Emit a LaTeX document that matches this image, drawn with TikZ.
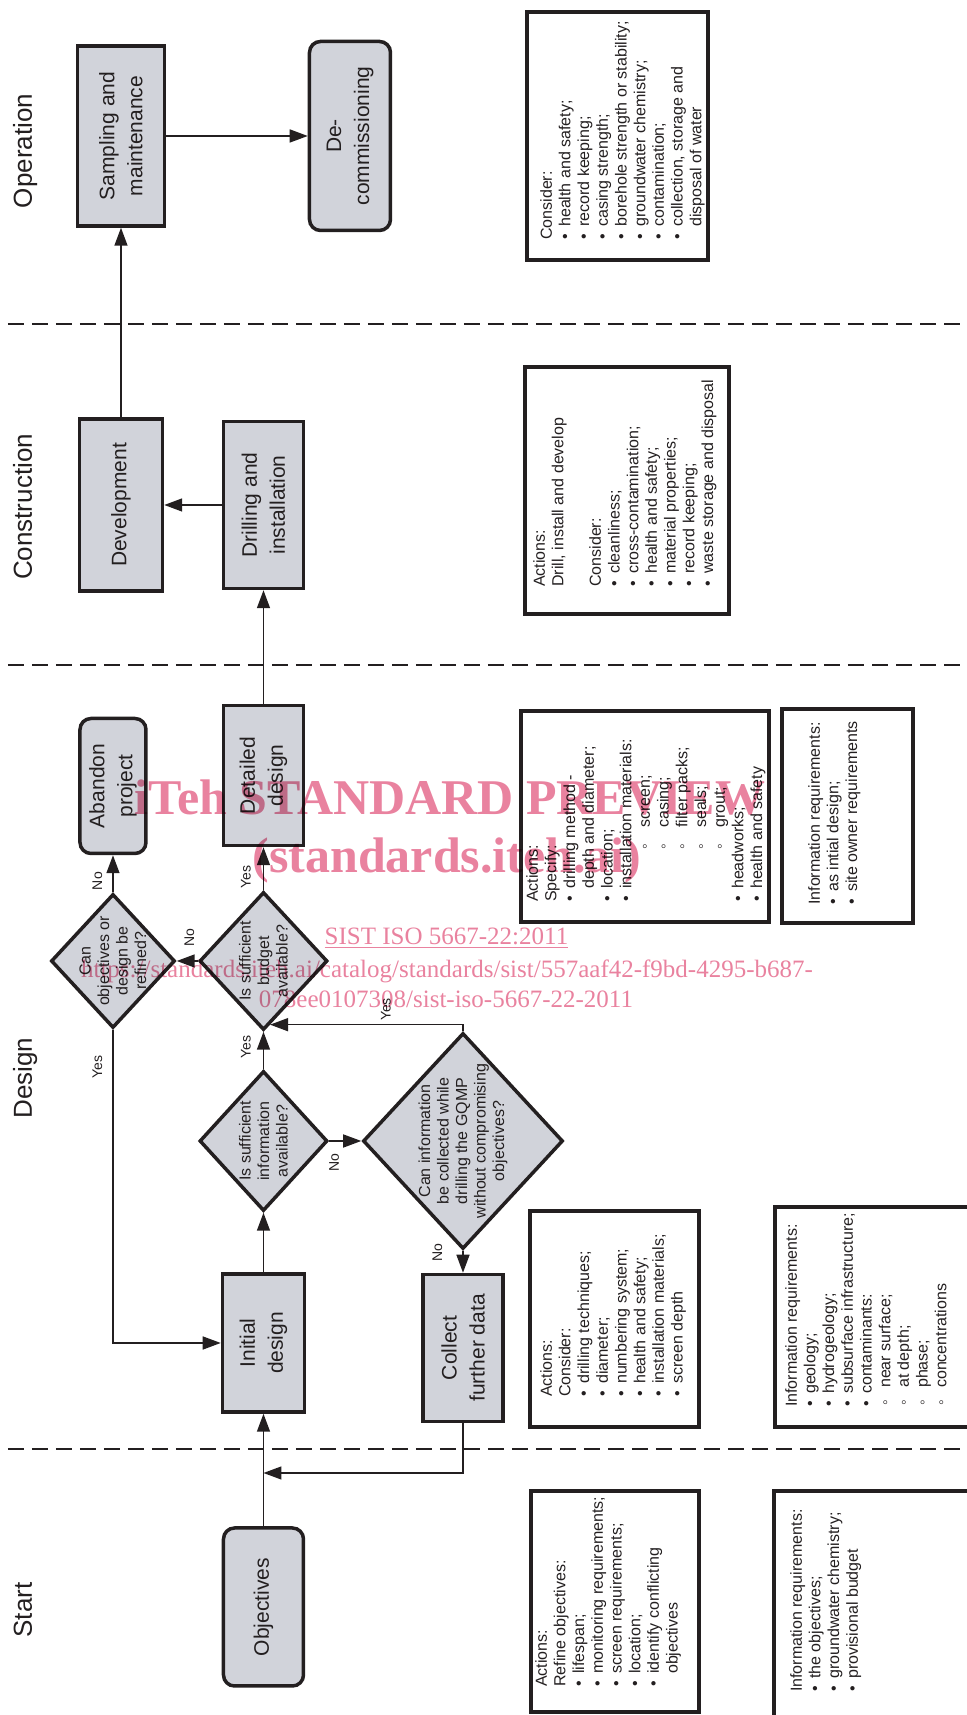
\documentclass[tikz,border=0pt]{standalone}
\usepackage{fontspec}
\setmainfont{Liberation Sans}
\newfontfamily\wmfont{Liberation Serif}
\usetikzlibrary{arrows.meta,shapes.geometric,calc}
\definecolor{grigio}{HTML}{D1D3DA}
\definecolor{nero}{HTML}{231F20}
\definecolor{rosa}{HTML}{E9829F}
% punti elenco
\newcommand{\bl}{\makebox[13pt][l]{\textbullet}}
\newcommand{\cl}{\hspace*{13pt}}
\newcommand{\sbl}[2]{\hspace*{#1}\makebox[#2][l]{◦}}

\begin{document}
\begin{tikzpicture}[x=1pt, y=1pt, rotate=90, transform shape,
        every node/.style={text=nero},
        proc/.style={draw=nero, line width=3.5pt, fill=grigio, align=center,
            inner sep=0pt, font=\fontsize{21}{28}\selectfont},
        term/.style={proc, rounded corners=11pt},
        dmd/.style={diamond, draw=nero, line width=3.5pt, fill=grigio, inner sep=0pt},
        dtext/.style={align=center, inner sep=0pt, font=\fontsize{16}{18.5}\selectfont},
        infobox/.style={draw=nero, line width=3.5pt},
        itext/.style={anchor=north west, align=left, inner sep=0pt,
            font=\fontsize{16}{18.7}\selectfont},
        arr/.style={draw=nero, line width=1.5pt, -{Triangle[length=18pt, width=13pt]}},
        lane/.style={draw=nero, line width=1.5pt, dash pattern=on 16pt off 8pt},
        yn/.style={inner sep=1pt, font=\fontsize{14}{16}\selectfont},
        phase/.style={anchor=base, font=\fontsize{26}{30}\selectfont},
        wm/.style={rotate=-90, anchor=base, text=rosa, inner sep=0pt}]
    \useasboundingbox (0,0) rectangle (1715,966);

    % Corsie
    \foreach \lx in {266,1050,1391}
        \draw[lane] (\lx,958) -- (\lx,-5);
    \foreach \lx/\t in {105/Start, 637/Design, 1208/Construction, 1564/Operation}
        \node[phase] (ph-\t) at (\lx,934) {\t};

    % Blocchi del diagramma
    \node[term, minimum width=158pt, minimum height=80pt] (obj) at (108,702.5) {Objectives};
    \node[proc, minimum width=138pt, minimum height=82pt] (init) at (372,702.5) {Initial\\design};
    \node[proc, minimum width=147pt, minimum height=80pt] (collect) at (367,503) {Collect\\further data};
    \node[dmd, minimum width=140pt, minimum height=128pt] (infoq) at (574,702.5) {};
    \node[dtext] (infoq-t) at (infoq) {Is sufficient\\information\\available?};
    \node[dmd, minimum width=216pt, minimum height=200pt] (collq) at (574,503) {};
    \node[dtext] (collq-t) at (collq) {Can information\\be collected while\\drilling the GQMP\\without compromising\\objectives?};
    \node[dmd, minimum width=138pt, minimum height=128pt] (budget) at (754,702.5) {};
    \node[dtext] (budget-t) at (budget) {Is sufficient\\budget\\available?};
    \node[dmd, minimum width=134pt, minimum height=124pt] (refine) at (754,853) {};
    \node[dtext] (refine-t) at (refine) {Can\\objectives or\\design be\\refined?};
    \node[proc, minimum width=140pt, minimum height=80pt] (detail) at (939.5,702.5) {Detailed\\design};
    \node[term, minimum width=135pt, minimum height=66pt] (abandon) at (929,853) {Abandon\\project};
    \node[proc, minimum width=167pt, minimum height=80pt] (drill) at (1210,702.5) {Drilling and\\installation};
    \node[proc, minimum width=172pt, minimum height=83pt] (devel) at (1210,845) {Development};
    \node[proc, minimum width=180pt, minimum height=87pt] (sampl) at (1579,845) {Sampling and\\maintenance};
    \node[term, minimum width=189pt, minimum height=81pt] (decomm) at (1579,616) {De-\\commissioning};

    % Collegamenti
    \coordinate (join) at (242,702.5);
    \coordinate (tipyes) at ($(budget.west)!0.1!(budget.south)$);
    \draw[arr] (obj) -- (init);
    \draw[arr] (collect.west) -- (collect.west -| join) -- (join);
    \draw[arr] (init) -- (infoq);
    \draw[arr] (infoq) -- node[yn, pos=0.15, left=11pt] (no1) {No} (collq);
    \draw[arr] (collq) -- node[yn, pos=0.08, above=19pt] (no2) {No} (collect);
    \draw[arr] (collq.east) -| node[yn, pos=0.7, right=2pt] (yes1) {Yes} (tipyes);
    \draw[arr] (infoq) -- node[yn, pos=0.59, above=11pt] (yes2) {Yes} (budget);
    \draw[arr] (budget) -- node[yn, pos=0.3, above=11pt] (yes3) {Yes} (detail);
    \draw[arr] (budget) -- node[yn, pos=0.4, right=13pt] (no3) {No} (refine);
    \draw[arr] (refine) -- node[yn, pos=0.3, above=9pt] (no4) {No} (abandon);
    \draw[arr] (refine.west) -| node[yn, pos=0.06, above=9pt] (yes4) {Yes} (init.north);
    \draw[arr] (detail) -- (drill);
    \draw[arr] (drill) -- (devel);
    \draw[arr] (devel) -- (sampl);
    \draw[arr] (sampl) -- (decomm);

    % Riquadri di testo
    \draw[infobox] (1455,258) rectangle (1703,439);
    \draw[infobox] (1101,237) rectangle (1348,441);
    \draw[infobox] (793,197) rectangle (1004,445);
    \draw[infobox] (792,53) rectangle (1006,184);
    \draw[infobox] (288,267) rectangle (504,436);
    \draw[infobox] (288,-20) rectangle (508,191);
    \draw[infobox] (3,267) rectangle (224,435);
    \draw[infobox] (-20,-20) rectangle (224,192);

    \node[itext] (txt-op) at (1475,426) {Consider:\\
        \bl health and safety;\\
        \bl record keeping;\\
        \bl casing strength;\\
        \bl borehole strength or stability;\\
        \bl groundwater chemistry;\\
        \bl contamination;\\
        \bl collection, storage and\\
        \cl disposal of water};
    \node[itext] (txt-co) at (1128,433) {Actions:\\
        Drill, install and develop\\[18.7pt]
        Consider:\\
        \bl cleanliness;\\
        \bl cross-contamination;\\
        \bl health and safety;\\
        \bl material properties;\\
        \bl record keeping;\\
        \bl waste storage and disposal};
    \node[itext] (txt-de1) at (813,440) {Actions:\\
        Specify:\\
        \bl drilling method -\\
        \cl depth and diameter;\\
        \bl location;\\
        \bl installation materials:\\
        \sbl{52pt}{22pt}screen;\\
        \sbl{52pt}{22pt}casing;\\
        \sbl{52pt}{22pt}filter packs;\\
        \sbl{52pt}{22pt}seals;\\
        \sbl{52pt}{22pt}grout;\\
        \bl headworks;\\
        \bl health and safety};
    \node[itext] (txt-de2) at (810,158) {Information requirements:\\
        \bl as intial design;\\
        \bl site owner requirements};
    \node[itext] (txt-de3) at (318,426) {Actions:\\
        Consider:\\
        \bl drilling techniques;\\
        \bl diameter;\\
        \bl numbering system;\\
        \bl health and safety;\\
        \bl installation materials;\\
        \bl screen depth};
    \node[itext] (txt-de4) at (308,181) {Information requirements:\\
        \bl geology;\\
        \bl hydrogeology;\\
        \bl subsurface infrastructure;\\
        \bl contaminants:\\
        \sbl{1pt}{18pt}near surface;\\
        \sbl{1pt}{18pt}at depth;\\
        \sbl{1pt}{18pt}phase;\\
        \sbl{1pt}{18pt}concentrations};
    \node[itext] (txt-st1) at (28,431) {Actions:\\
        Refine objectives:\\
        \bl lifespan;\\
        \bl monitoring requirements;\\
        \bl screen requirements;\\
        \bl location;\\
        \bl identify conflicting\\
        \cl objectives};
    \node[itext] (txt-st2) at (23,176) {Information requirements:\\
        \bl the objectives;\\
        \bl groundwater chemistry;\\
        \bl provisional budget};

    % Filigrana
    \begin{scope}[blend mode=multiply]
        \node[wm, font=\wmfont\bfseries\fontsize{50}{50}\selectfont] (wm1) at (900,516) {iTeh STANDARD PREVIEW};
        \node[wm, font=\wmfont\bfseries\fontsize{50}{50}\selectfont] (wm2) at (842,519) {(standards.iteh.ai)};
        \node[wm, font=\wmfont\fontsize{25}{25}\selectfont] (wm3) at (770,519.5) {\underline{SIST ISO 5667-22:2011}};
        \node[wm, font=\wmfont\fontsize{25}{25}\selectfont] (wm4) at (737,519) {https://standards.iteh.ai/catalog/standards/sist/557aaf42-f9bd-4295-b687-};
        \node[wm, font=\wmfont\fontsize{25}{25}\selectfont] (wm5) at (707,520) {078ee0107308/sist-iso-5667-22-2011};
    \end{scope}
\end{tikzpicture}
\end{document}
